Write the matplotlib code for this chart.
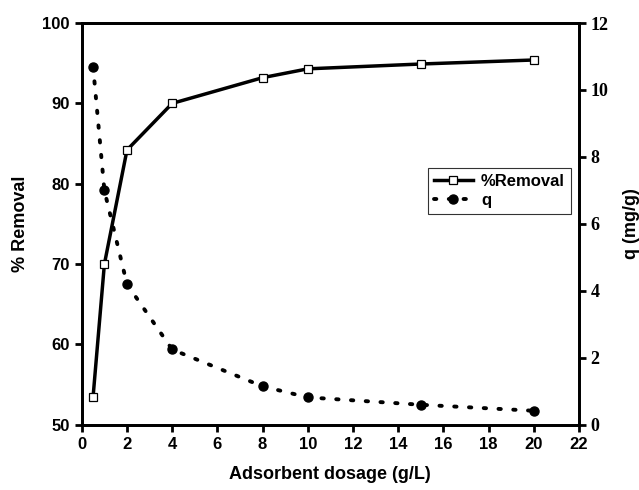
import matplotlib
matplotlib.use('Agg')
import matplotlib.pyplot as plt

dosage = [0.5, 1, 2, 4, 8, 10, 15, 20]
removal = [53.5, 70.0, 84.2, 90.0, 93.2, 94.3, 94.9, 95.4]
q = [10.7, 7.0, 4.2, 2.25, 1.15, 0.82, 0.6, 0.42]

plt.rcParams['font.family'] = 'Liberation Sans'
plt.rcParams['font.weight'] = 'bold'

fig = plt.figure(figsize=(6.39, 4.9), dpi=100)
ax = fig.add_axes([0.128, 0.133, 0.778, 0.820])
ax2 = ax.twinx()

l1, = ax.plot(dosage, removal, '-s', color='black', lw=2.5, ms=5.5,
              mfc='white', mec='black', mew=0.9, label='%Removal')
l2, = ax2.plot(dosage, q, marker='o', color='black', lw=2.8, ms=6.5,
               ls=(0, (0.6, 3.2)), dash_capstyle='round', label='q')

ax.set_xlim(0, 22)
ax.set_ylim(50, 100)
ax2.set_ylim(0, 12)
ax.set_xticks(range(0, 23, 2))
ax.set_yticks(range(50, 101, 10))
ax2.set_yticks(range(0, 13, 2))

for a in (ax, ax2):
    for s in a.spines.values():
        s.set_linewidth(2)
    a.tick_params(width=2, length=5, direction='out')
ax.tick_params(labelsize=12)
for t in ax2.get_yticklabels():
    t.set_fontfamily('Liberation Serif')
    t.set_fontsize(13)
    t.set_fontweight('bold')

ax.set_xlabel('Adsorbent dosage (g/L)', fontsize=13, fontweight='bold', labelpad=10)
ax.set_ylabel('% Removal', fontsize=13, fontweight='bold', labelpad=10)
ax2.set_ylabel('q (mg/g)', fontsize=13, fontweight='bold', labelpad=10)

leg = ax2.legend([l1, l2], ['%Removal', 'q'], loc='upper right',
                 bbox_to_anchor=(1.0, 0.66), fontsize=12, frameon=True,
                 fancybox=False, edgecolor='black', handlelength=2.3,
                 borderpad=0.35, labelspacing=0.25, handletextpad=0.5)
leg.get_frame().set_linewidth(0.8)

fig.savefig('out.png', dpi=100)
